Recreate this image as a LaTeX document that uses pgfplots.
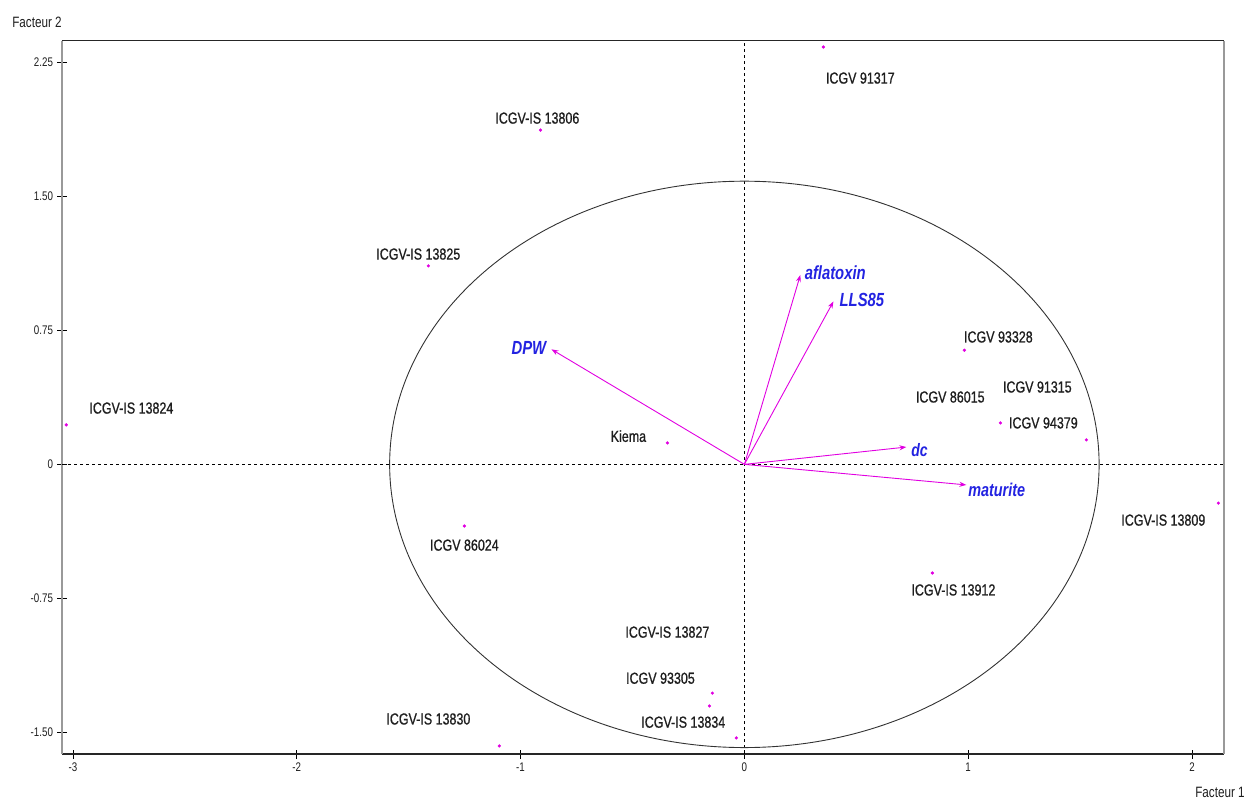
\documentclass[border=0pt]{standalone}
\usepackage{fontspec}
\setmainfont{Liberation Sans}[FakeStretch=0.78]
\newfontfamily\labfont{Liberation Sans}[FakeStretch=0.78, FakeBold=0.8]
\usepackage{pgfplots}
\pgfplotsset{compat=1.18}
\usetikzlibrary{arrows.meta}
\definecolor{mag}{RGB}{225,0,225}
\definecolor{vb}{RGB}{35,35,225}
\definecolor{lab}{RGB}{30,30,30}
\pgfplotstableread{
x y
0.353 2.336
-0.911 1.871
-1.412 1.111
-3.03 0.221
-0.344 0.12
-1.251 -0.345
-1.095 -1.576
-0.143 -1.28
-0.156 -1.352
-0.036 -1.531
0.983 0.639
1.144 0.232
1.528 0.137
2.118 -0.217
0.84 -0.608
}\obs
\begin{document}
\begin{tikzpicture}
\begin{axis}[
  x=223.8pt, y=178.67pt,
  xmin=-3.049, xmax=2.143, ymin=-1.621, ymax=2.371,
  axis line style={draw=none},
  xtick={-3,-2,-1,0,1,2},
  xticklabels={-3,-2,-1,0,1,2},
  ytick={-1.5,-0.75,0,0.75,1.5,2.25},
  yticklabels={-1.50,-0.75,0,0.75,1.50,2.25},
  tick align=center,
  major tick length=9pt,
  tick style={black, line width=0.8pt},
  x tick label style={font=\fontsize{12.5}{12.5}\selectfont, text=lab, yshift=-1pt},
  y tick label style={font=\fontsize{12.5}{12.5}\selectfont, text=lab, xshift=-1pt},
  xtick pos=bottom, ytick pos=left,
  clip=false,
]
% frame
\draw[black!85, line width=1.3pt] (rel axis cs:0,0) -- (rel axis cs:1,0);
\draw[black!85, line width=1.3pt] (rel axis cs:0,1) -- (rel axis cs:1,1);
\draw[black!40, line width=2pt] (rel axis cs:0,0) -- (rel axis cs:0,1);
\draw[black!40, line width=2pt] (rel axis cs:1,0) -- (rel axis cs:1,1);
\coordinate (bl) at (rel axis cs:0,0);
% dashed zero lines
\draw[black, line width=0.7pt, dash pattern=on 3pt off 3pt] (axis cs:-3.049,0) -- (axis cs:2.143,0);
\draw[black, line width=0.7pt, dash pattern=on 3pt off 3pt] (axis cs:0,-1.621) -- (axis cs:0,2.371);
% correlation circle
\draw[black!80, line width=0.9pt] (axis cs:0,0) ellipse [x radius=1.585, y radius=1.585];
% observations
\addplot[only marks, mark=*, mark size=1.4pt, color=mag] table {\obs};
% variable vectors
\addplot[mag, line width=0.9pt, -{Stealth[length=7pt,width=5pt]}] coordinates {(0,0) (-0.862,0.644)};
\addplot[mag, line width=0.9pt, -{Stealth[length=7pt,width=5pt]}] coordinates {(0,0) (0.25,1.06)};
\addplot[mag, line width=0.9pt, -{Stealth[length=7pt,width=5pt]}] coordinates {(0,0) (0.398,0.912)};
\addplot[mag, line width=0.9pt, -{Stealth[length=7pt,width=5pt]}] coordinates {(0,0) (0.724,0.097)};
\addplot[mag, line width=0.9pt, -{Stealth[length=7pt,width=5pt]}] coordinates {(0,0) (0.992,-0.115)};
% variable labels
\node[anchor=east, text=vb, font=\fontsize{19}{19}\selectfont\bfseries\itshape] at (axis cs:-0.87,0.65) {DPW};
\node[anchor=west, text=vb, font=\fontsize{19}{19}\selectfont\bfseries\itshape, inner sep=2pt] at (axis cs:0.26,1.07) {aflatoxin};
\node[anchor=west, text=vb, font=\fontsize{19}{19}\selectfont\bfseries\itshape] at (axis cs:0.41,0.92) {LLS85};
\node[anchor=west, text=vb, font=\fontsize{18}{18}\selectfont\bfseries\itshape] at (axis cs:0.73,0.08) {dc};
\node[anchor=west, text=vb, font=\fontsize{18.5}{18.5}\selectfont\bfseries\itshape, inner sep=1pt] at (axis cs:0.995,-0.14) {maturite};
% observation labels
\begin{scope}[every node/.style={text=lab, font=\labfont\fontsize{16}{16}\selectfont}]
\node at (axis cs:0.518,2.162) {ICGV 91317};
\node at (axis cs:-0.925,1.938) {ICGV-IS 13806};
\node at (axis cs:-1.457,1.177) {ICGV-IS 13825};
\node at (axis cs:-2.739,0.315) {ICGV-IS 13824};
\node at (axis cs:-0.518,0.158) {Kiema};
\node at (axis cs:-1.251,-0.452) {ICGV 86024};
\node at (axis cs:-1.412,-1.425) {ICGV-IS 13830};
\node at (axis cs:-0.344,-0.939) {ICGV-IS 13827};
\node at (axis cs:-0.375,-1.197) {ICGV 93305};
\node at (axis cs:-0.273,-1.443) {ICGV-IS 13834};
\node at (axis cs:1.135,0.713) {ICGV 93328};
\node at (axis cs:0.920,0.377) {ICGV 86015};
\node at (axis cs:1.309,0.433) {ICGV 91315};
\node at (axis cs:1.336,0.232) {ICGV 94379};
\node at (axis cs:1.872,-0.312) {ICGV-IS 13809};
\node at (axis cs:0.934,-0.703) {ICGV-IS 13912};
\end{scope}
\end{axis}
\node[text=lab, font=\fontsize{15}{15}\selectfont] at ([shift={(-25pt,732pt)}]bl) {Facteur 2};
\node[text=lab, font=\fontsize{15}{15}\selectfont] at ([shift={(1158pt,-38pt)}]bl) {Facteur 1};
\pgfresetboundingbox
\path ([shift={(-62pt,-46pt)}]bl) rectangle ++(1246pt,800pt);
\end{tikzpicture}
\end{document}
